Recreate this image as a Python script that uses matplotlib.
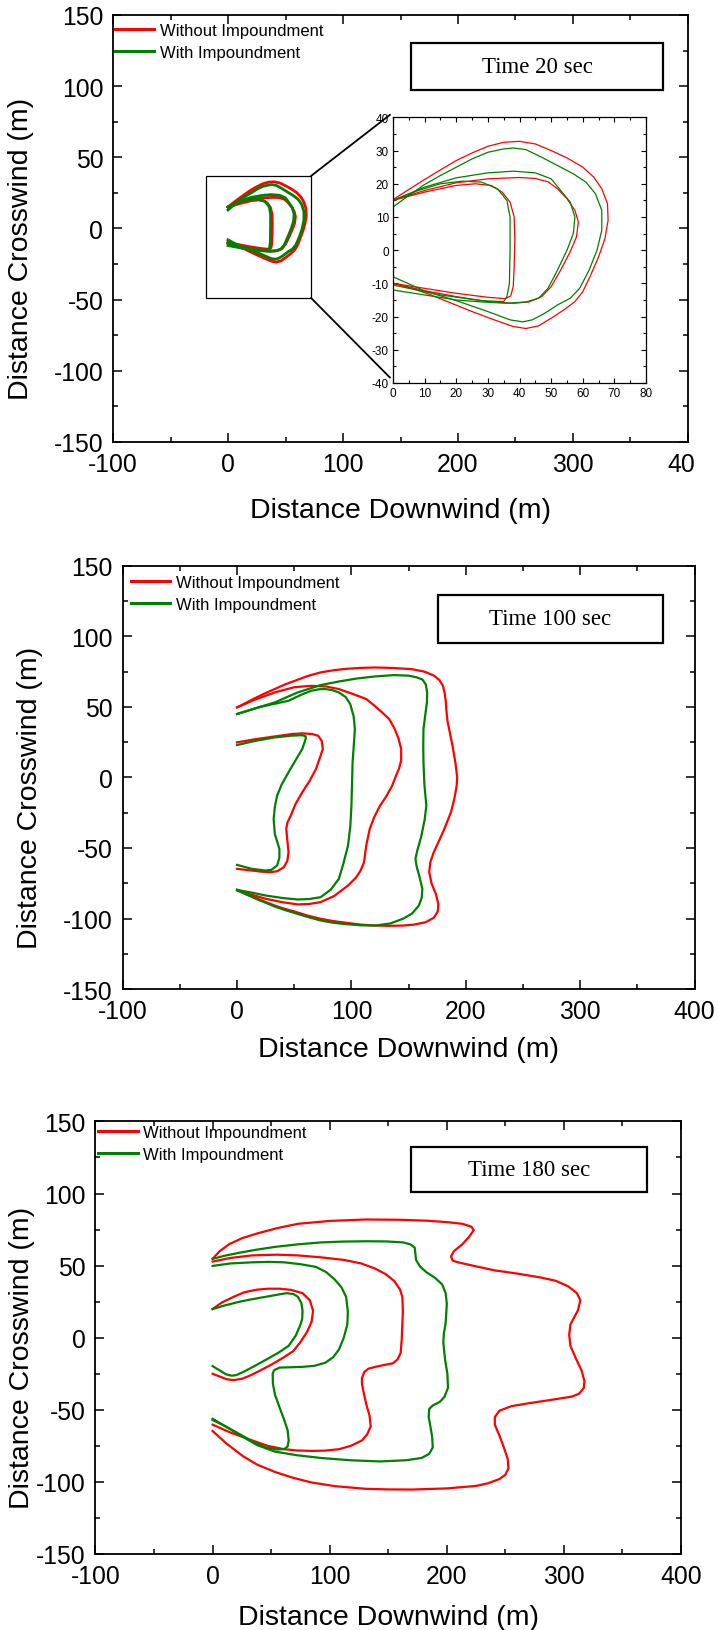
import matplotlib
matplotlib.use("Agg")
import matplotlib.pyplot as plt
import numpy as np
from matplotlib.patches import Rectangle, ConnectionPatch
from matplotlib.transforms import Bbox

plt.rcParams['font.family'] = ['Liberation Sans', 'DejaVu Sans']
plt.rcParams['axes.unicode_minus'] = False

RED = '#ff0000'
GREEN = '#008000'

# ---- data: contours, (downwind, crosswind) in m ----
# Time 20 sec
t20_red_outer = [(0, 15.2), (5, 18.3), (10, 21.3), (15, 24.2), (20, 27), (25, 29.3), (30, 31.3), (35, 32.5),
                 (40, 32.8), (45, 32), (50, 30), (55, 27.8), (60, 25), (63.5, 22), (66, 18.5), (67.8, 14),
                 (68, 9), (67, 3.5), (65, -2), (62.5, -7.5), (60, -12.5), (57.5, -15.5), (54, -18),
                 (50, -20.5), (46, -22.8), (42, -23.6), (38, -23), (32, -21), (25, -18.5), (18, -15.8),
                 (12, -13.5), (6, -11.5), (0, -10)]
t20_red_mid = [(0, 15), (10, 18), (20, 20.3), (30, 21.5), (40, 21.9), (45, 21.6), (49, 20.6), (52, 18.5),
               (55, 15.5), (57.5, 12), (58.6, 8.5), (58, 4), (56, -0.5), (53, -6), (50, -11), (47, -14),
               (43, -15.6), (38, -16), (30, -15.5), (20, -14), (10, -12.2), (0, -10)]
t20_red_inner = [(0, 15), (10, 17.5), (20, 19.5), (26, 20), (31, 19.5), (34.5, 17.5), (37, 14.5),
                 (38.3, 10), (38.5, 3), (38.3, -5), (38, -11), (37.2, -13.8), (35.5, -14.6), (30, -14.2),
                 (20, -13), (10, -11.5), (0, -10)]
t20_green_outer = [(0, 13), (5, 16.5), (10, 19.8), (15, 22.5), (20, 25), (25, 27.5), (30, 29.5), (35, 30.5),
                   (38, 30.8), (42, 30.3), (47, 28), (52, 25.5), (57, 23), (61, 20.5), (64, 17), (66, 12),
                   (66, 6), (64.5, 0), (62, -6), (59, -11.5), (56, -14.5), (52, -16.5), (48, -19),
                   (44, -21), (41, -21.6), (37, -21), (30, -18.5), (20, -15.2), (10, -12.3), (0, -8)]
t20_green_mid = [(0, 15), (10, 19), (20, 21.8), (30, 23.3), (38, 23.8), (45, 23.3), (50, 21.5), (53, 18),
                 (56, 14.5), (57.5, 10), (57, 5), (55, 0), (52, -6), (49, -11.5), (46, -14.5), (42, -15.6),
                 (36, -16), (28, -15.6), (20, -15), (10, -13.5), (0, -12)]
t20_green_inner = [(0, 15), (8, 18), (15, 20), (22, 20.8), (28, 20.5), (33, 18.5), (36, 15), (37, 10),
                   (37, 0), (36.8, -10), (36, -14), (35, -15.5), (28, -15.2), (15, -13.5), (0, -10.5)]

# Time 100 sec
t100_red_outer = [(0, 49.7), (8, 53), (15, 56), (24, 59.5), (32.9, 62.7), (42, 66), (52, 69), (62, 72),
                  (73, 74.5), (84, 76), (95, 77), (108, 77.7), (121, 78), (137, 77.6), (153, 76.8),
                  (164, 75), (172, 72.3), (177, 69), (180, 65), (181.5, 60), (182.5, 54), (183, 48),
                  (184, 40), (186, 32), (188.5, 22), (191, 10), (192.5, 0), (192, -6), (190, -15),
                  (187, -24.7), (181, -37), (176, -46), (172, -53), (169, -60), (168, -67), (170, -75),
                  (174, -83), (176, -90), (175.5, -95), (172, -99.5), (165, -102.6), (155, -104.3),
                  (145, -105), (133, -105.2), (121, -105), (108, -104.3), (95, -103), (84, -101.8),
                  (73, -100.2), (62, -98), (50, -95), (41, -93), (32.9, -90.8), (24, -88), (15, -85),
                  (7, -82.5), (0, -80.1)]
t100_red_mid = [(0, 49.7), (15, 55), (32.9, 60.3), (50, 64), (65, 65), (78, 64.5), (89, 62.7), (102, 59),
                (113, 55.6), (120, 51), (127, 46), (133, 41.4), (137.5, 35), (141, 28), (143.5, 20.2),
                (143.5, 12), (141.5, 6), (139, 1.3), (135.5, -6), (130, -14), (125, -20), (120, -28),
                (116, -36.5), (113, -48), (111, -60.1), (108, -66), (104, -71), (97, -76.6),
                (85, -84), (73, -88.4), (63, -89.7), (53, -90), (40, -88.5), (25, -86), (12, -83),
                (0, -79.7)]
t100_red_inner = [(0, 24.9), (15, 27), (32.9, 29.1), (48, 30.8), (57, 31.3), (66, 30.8), (71, 29.5),
                  (74, 26), (75, 20.2), (72, 13), (69, 6), (63, -3), (57, -10.5), (51, -19), (47, -27),
                  (44, -32), (43, -36.5), (44, -45), (45, -53), (44, -59), (41, -63.6), (35, -66.5),
                  (29, -67.2), (20, -66.7), (13, -66), (0, -64.8)]
t100_green_outer = [(0, 45), (15, 48.8), (32.9, 53.2), (53, 60.3), (73, 65.5), (90, 68.2), (105, 70.2),
                    (120, 71.6), (137, 72.6), (150, 72.2), (157, 71), (162, 69.5), (165, 66), (166.2, 60),
                    (166, 53.2), (164.5, 44), (163, 34.3), (162.8, 22), (163, 10.7), (163.8, -5),
                    (165.5, -20), (164, -30), (161, -42), (157.5, -52), (156, -57.7), (157, -63),
                    (160, -72), (162, -79), (161.5, -85), (159, -90.8), (153, -96.5), (145, -100.2),
                    (134, -103.5), (121, -105), (108, -104.8), (95, -104), (84, -103), (73, -101.4),
                    (60, -98.5), (50, -96), (41, -93.8), (32.9, -91.5), (24, -88.5), (15, -85.5),
                    (7, -82.5), (0, -79.7)]
t100_green_mid = [(0, 45), (20, 50), (45, 54.4), (57, 59), (65, 61.5), (72, 62.6), (77, 62.7), (83, 62),
                  (89, 60.3), (95, 57), (99, 52), (102, 43), (103, 34.3), (102, 22), (101, 10.7),
                  (100.5, -5), (100, -20), (99, -35), (97, -48.3), (93, -61), (89, -71.9), (82, -79.5),
                  (73, -84.9), (63, -86.2), (53, -86.5), (40, -85.5), (25, -83.7), (12, -81.5), (0, -79.7)]
t100_green_inner = [(0, 23), (15, 25.8), (32.9, 28.4), (47, 29.6), (57, 30), (60, 29.2), (60, 27.3),
                    (57, 20.2), (51, 12), (45, 3.7), (39, -5), (35, -12.9), (33, -21), (32, -29.4),
                    (33, -40), (37, -50.6), (37, -57), (35, -62.4), (30, -65.5), (25, -66),
                    (13, -64.8), (0, -62)]

# Time 180 sec
t180_red_outer = [(0, 54.7), (6, 60), (14.2, 64.9), (25, 69), (37.6, 72.2), (55, 76), (72.8, 79), (100, 81),
                  (131, 82), (160, 81.8), (182, 81.2), (200, 80.2), (213.4, 79), (221, 77), (223, 74.6),
                  (219, 70), (213.4, 64.9), (206, 60), (203.6, 56.4), (205, 53.5), (209.5, 52.3),
                  (225, 49.5), (241, 46.7), (260, 44.5), (280, 41.8), (293, 39.5), (303.5, 35.7),
                  (311, 31), (314, 26), (312, 19), (308, 13), (305.5, 9), (304.5, 2), (305.5, -5.6),
                  (310, -14), (315, -22.6), (317.5, -30), (317, -34.8), (313, -38.8), (307, -40.8),
                  (290, -43), (268, -45.7), (255, -47.5), (245, -50.6), (241, -55), (241, -60.3),
                  (245, -68), (248.7, -76.1), (252, -84), (252.6, -90.7), (250, -95), (245, -98),
                  (235, -101), (225, -102.8), (200, -104.5), (170.6, -105.3), (150, -105.2), (131, -104.8),
                  (105, -103), (84.5, -100.4), (68, -97), (53.3, -93.1), (38, -88), (26, -82.2),
                  (12, -73.5), (0, -64.7)]
t180_red_mid = [(0, 52.8), (15, 55.3), (33.8, 57.1), (55, 57.6), (72.8, 57.1), (92, 55.8), (111.8, 54),
                (127, 51.5), (139, 47.9), (148, 44), (155, 39.4), (160, 33.5), (162, 28.4), (162.5, 18),
                (162, 9), (161.5, -1), (160.6, -10.5), (158, -15), (154, -17.7), (146, -19), (139, -20.2),
                (133, -21.5), (129.5, -23.8), (127.5, -28), (127.6, -32.3), (129.5, -40), (131.5, -46.9),
                (134, -54), (135, -61.5), (132, -67), (127.6, -71.2), (118, -75), (108, -77.3),
                (96, -78.3), (84.5, -78.5), (72, -78.2), (61, -77.3), (47, -75), (33.8, -71.2),
                (16, -66), (0, -60.3)]
t180_red_inner = [(0, 19.9), (8, 24.5), (18, 28.4), (27, 31.5), (37.6, 33.3), (47, 34), (57.2, 34),
                  (67, 33.2), (76.8, 30.9), (83, 26), (85.8, 18.7), (84.5, 11), (80.7, 4.1), (75, -3),
                  (69, -9.2), (60, -14), (49.4, -19), (40, -23), (31.8, -26.3), (25, -28.5), (18, -29.4),
                  (12, -28.8), (6.3, -27), (0, -25)]
t180_green_outer = [(0, 54.7), (10, 56.8), (22, 58.8), (37, 61), (53.3, 63), (72, 64.7), (92.4, 66.1),
                    (112, 66.7), (131, 66.9), (148, 66.8), (163, 66.1), (169, 64.7), (172.6, 62.5),
                    (173.2, 58), (173.7, 54), (177, 49.5), (182.4, 45.5), (190, 41.5), (196, 37),
                    (199, 31), (200, 23.6), (199, 10), (197.5, 3), (197, -3.2), (198.5, -15),
                    (200.5, -25), (201, -34.8), (198, -41), (194, -44.5), (188, -47), (185, -49.4),
                    (184.5, -55), (186, -61.5), (187.5, -69), (188, -76.1), (185, -80.5), (178.5, -83.4),
                    (165, -85), (143, -85.8), (118, -85), (92.4, -83.4), (72, -81.5), (53.3, -79),
                    (38, -74.5), (26, -68.8), (12, -62), (0, -56.2)]
t180_green_mid = [(0, 49.8), (15, 51.5), (33.8, 52.3), (48, 52.6), (61, 52.3), (75, 51), (88.4, 49.1),
                  (97, 45.5), (104, 40.6), (110, 35), (114, 28.4), (115.5, 18), (115, 9), (112, 0),
                  (108, -8), (103, -13.5), (96.3, -17.3), (87, -19.5), (76.8, -20.2), (66, -20.5),
                  (57.2, -20.7), (52.5, -22.5), (51.3, -25), (51.5, -32), (53.3, -39.6), (57, -48),
                  (61, -56.6), (64, -64), (65, -71.2), (64, -75.5), (61, -77.3), (55, -77.5),
                  (45.5, -76.1), (33, -71.5), (22, -66.4), (10, -61), (0, -57.1)]
t180_green_inner = [(0, 19.9), (10, 22.3), (22, 24.8), (33, 26.6), (45.5, 28.4), (55, 29.8), (63.2, 30.9),
                    (69, 30.3), (72.8, 28.4), (75.8, 24), (76.8, 18.7), (76.5, 13), (75, 9), (71, 1.5),
                    (65, -5.6), (56, -10.5), (45.5, -15.3), (35, -20), (26, -23.8), (20, -26),
                    (16, -26.3), (11.5, -25.4), (8.3, -23.8), (0, -19.7)]

times = ['Time 20 sec', 'Time 100 sec', 'Time 180 sec']
red_sets = [[t20_red_outer, t20_red_mid, t20_red_inner],
            [t100_red_outer, t100_red_mid, t100_red_inner],
            [t180_red_outer, t180_red_mid, t180_red_inner]]
green_sets = [[t20_green_outer, t20_green_mid, t20_green_inner],
              [t100_green_outer, t100_green_mid, t100_green_inner],
              [t180_green_outer, t180_green_mid, t180_green_inner]]
labels = ['Without Impoundment', 'With Impoundment']
x_ticks = [-100, 0, 100, 200, 300, 400]
y_ticks = [-150, -100, -50, 0, 50, 100, 150]

# ---- layout (figure fractions) ----
fig = plt.figure(figsize=(7.18, 16.31), dpi=100)
axes_rects = [[0.1574, 0.7284, 0.8008, 0.2618],
              [0.1709, 0.3930, 0.7964, 0.2594],
              [0.1330, 0.0466, 0.8155, 0.2652]]
box_pos = [(159.2, 97.5, 219.4, 33.0), (175.4, 95.7, 197.4, 33.5), (169.7, 101.4, 201.0, 31.1)]
legend_anchor = [(0.004, 0.981), (0.015, 0.978), (0.005, 0.992)]
ylabel_x = [-0.138, -0.140, -0.103]
xlabel_y = [-0.128, -0.11, -0.115]
main_lw = [2.0, 1.6, 1.6]


def plot_curves(ax, idx, lw):
    for k, c in enumerate(red_sets[idx]):
        a = np.array(c)
        ax.plot(a[:, 0], a[:, 1], color=RED, lw=lw, solid_joinstyle='round',
                label=labels[0] if k == 0 else None)
    for k, c in enumerate(green_sets[idx]):
        a = np.array(c)
        ax.plot(a[:, 0], a[:, 1], color=GREEN, lw=lw, solid_joinstyle='round',
                label=labels[1] if k == 0 else None)


axs = []
for i in range(3):
    ax = fig.add_axes(axes_rects[i])
    plot_curves(ax, i, main_lw[i])
    ax.set_xlim(-100, 400)
    ax.set_ylim(-150, 150)
    ax.set_xticks(x_ticks)
    ax.set_yticks(y_ticks)
    ax.set_xticks(np.arange(-50, 400, 100), minor=True)
    ax.set_yticks(np.arange(-125, 150, 50), minor=True)
    ax.tick_params(which='both', direction='in', top=True, right=True, labelsize=17.8, width=1.1)
    ax.tick_params(which='major', length=6.5, pad=7)
    ax.tick_params(which='minor', length=3.6)
    for s in ax.spines.values():
        s.set_linewidth(1.3)
    ax.set_xlabel('Distance Downwind (m)', fontsize=20.5)
    ax.set_ylabel('Distance Crosswind (m)', fontsize=20.5)
    ax.yaxis.set_label_coords(ylabel_x[i], 0.455)
    ax.xaxis.set_label_coords(0.5, xlabel_y[i])
    leg = ax.legend(loc='upper left', bbox_to_anchor=legend_anchor[i], frameon=False, fontsize=12,
                    handlelength=2.35, handletextpad=0.33, labelspacing=0.42, borderpad=0, borderaxespad=0)
    for h in leg.get_lines():
        h.set_linewidth(2.2)
    bx, by, bw, bh = box_pos[i]
    ax.add_patch(Rectangle((bx, by), bw, bh, fill=False, ec='black', lw=1.6, zorder=5))
    ax.text(bx + bw / 2, by + bh / 2, times[i], ha='center', va='center', fontsize=16.5,
            family='Liberation Serif', zorder=6)
    axs.append(ax)

# ---- zoom inset on the 20 sec panel ----
ax1 = axs[0]
ax_in = fig.add_axes([0.5474, 0.7646, 0.3524, 0.1628])
plot_curves(ax_in, 0, 0.9)
ax_in.set_xlim(0, 80)
ax_in.set_ylim(-40, 40)
ax_in.set_xticks(np.arange(0, 81, 10))
ax_in.set_yticks(np.arange(-40, 41, 10))
ax_in.set_xticks(np.arange(5, 80, 10), minor=True)
ax_in.set_yticks(np.arange(-35, 40, 10), minor=True)
ax_in.tick_params(which='both', direction='in', top=True, right=True, labelsize=8.5, width=0.8, pad=3)
ax_in.tick_params(which='major', length=3.5)
ax_in.tick_params(which='minor', length=2)
for s in ax_in.spines.values():
    s.set_linewidth(0.9)

ax1.add_patch(Rectangle((-19.1, -48.8), 91.3, 85.7, fill=False, ec='black', lw=0.9, zorder=4))
for xy_main, xy_in in [((72.2, 36.9), (-0.012, 1.01)), ((72.2, -48.8), (-0.012, 0.02))]:
    con = ConnectionPatch(xyA=xy_main, coordsA=ax1.transData, xyB=xy_in, coordsB=ax_in.transAxes,
                          color='black', lw=1.3)
    fig.add_artist(con)

# the source image is cropped through the last tick label of the top panel
fig.canvas.draw()
for lbl in ax1.get_xticklabels():
    if lbl.get_text() == '400':
        lbl.set_clip_box(Bbox.from_extents(0, 0, 695, 1631))
        lbl.set_clip_on(True)

fig.savefig('out.png', dpi=100)
